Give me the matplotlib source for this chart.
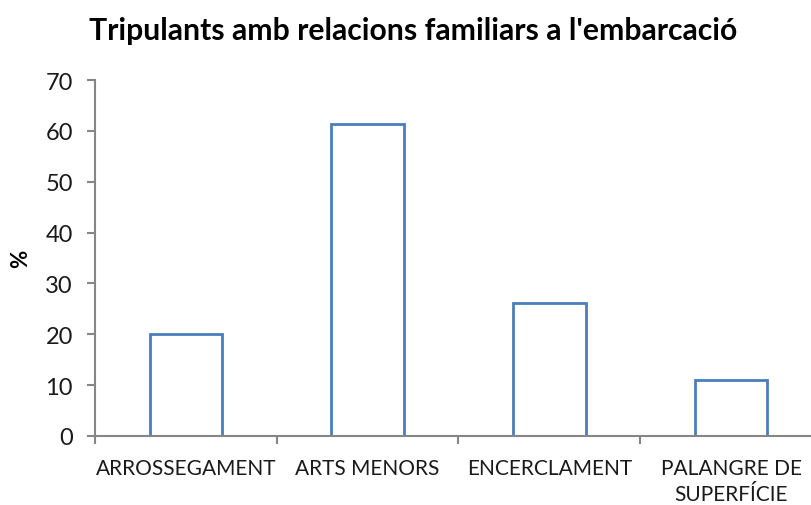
import matplotlib
matplotlib.use("Agg")
import matplotlib.pyplot as plt
from matplotlib.ticker import FixedLocator, NullFormatter

categories = ["ARROSSEGAMENT", "ARTS MENORS", "ENCERCLAMENT", "PALANGRE DE\nSUPERFÍCIE"]
values = [20.0, 61.3, 26.2, 11.0]
yticks = [0, 10, 20, 30, 40, 50, 60, 70]
title = "Tripulants amb relacions familiars a l'embarcació"
ylabel = "%"

plt.rcParams['font.family'] = ['Lato', 'DejaVu Sans']

fig = plt.figure(figsize=(8.12, 5.06), dpi=100)
ax = fig.add_axes([95/812, (506-437)/506, (822-95)/812, (437-81)/506])

x = list(range(len(categories)))
ax.bar(x, values, width=0.4, facecolor='white', edgecolor='#4A7EBB', linewidth=2.0, zorder=3)

ax.set_xlim(-0.5, len(categories) - 0.5)
ax.set_ylim(0, 70)
ax.set_yticks(yticks)
ax.set_xticks(x)
ax.set_xticklabels(categories, fontsize=15, color='#1a1a1a', linespacing=1.35)
ax.xaxis.set_minor_locator(FixedLocator([i - 0.5 for i in range(len(categories) + 1)]))
ax.xaxis.set_minor_formatter(NullFormatter())
ax.tick_params(axis='x', which='major', length=0, pad=16)
ax.tick_params(axis='x', which='minor', length=6, width=1.5, color='#868686', direction='out')
ax.tick_params(axis='y', length=6, width=1.5, color='#868686', direction='out', labelsize=17, labelcolor='#1a1a1a', pad=10)

for s in ['top', 'right']:
    ax.spines[s].set_visible(False)
for s in ['left', 'bottom']:
    ax.spines[s].set_color('#868686')
    ax.spines[s].set_linewidth(1.5)
ax.spines['bottom'].set_zorder(4)

ax.set_ylabel(ylabel, fontsize=16, fontweight='bold', labelpad=10)
fig.text(413/812, 1 - 31/506, title, ha='center', va='center', fontsize=21.7, fontweight='bold', color='black')

fig.savefig("out.png", dpi=100)
